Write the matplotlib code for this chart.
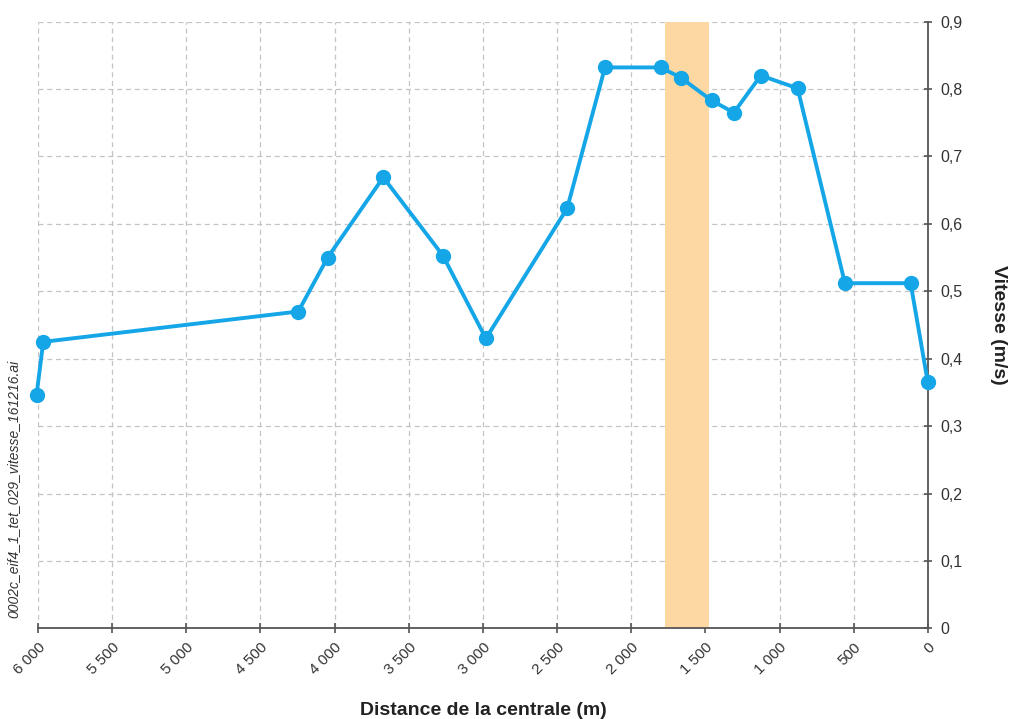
import matplotlib.pyplot as plt
from matplotlib.ticker import FuncFormatter

plt.rcParams['font.family'] = ['Liberation Sans', 'DejaVu Sans']

distance = [6010, 5965, 4245, 4047, 3672, 3270, 2980, 2432, 2177, 1802,
            1667, 1458, 1308, 1126, 878, 559, 116, 0]
vitesse = [0.346, 0.425, 0.470, 0.550, 0.669, 0.553, 0.430, 0.623, 0.832, 0.832,
           0.817, 0.783, 0.765, 0.820, 0.801, 0.512, 0.512, 0.365]
zone = [1770, 1475]
xticks = list(range(0, 6001, 500))
yticks = [i / 10 for i in range(10)]

bleu = '#15a6e8'
gris = '#555555'

fig = plt.figure(figsize=(10.14, 7.19), dpi=100)
ax = fig.add_axes([0.0375, 0.126, 0.8775, 0.844])

ax.axvspan(zone[0], zone[1], color='#fdd8a2', zorder=1, lw=0)
ax.plot(distance, vitesse, '-o', color=bleu, lw=2.8, markersize=10, zorder=3, clip_on=False)

ax.set_xlim(6000, 0)
ax.set_ylim(0, 0.9)
ax.set_xticks(xticks)
ax.set_yticks(yticks)
ax.xaxis.set_major_formatter(FuncFormatter(lambda v, p: f'{int(v):,}'.replace(',', ' ')))
ax.yaxis.set_major_formatter(FuncFormatter(lambda v, p: '0' if v == 0 else f'{v:.1f}'.replace('.', ',')))

ax.yaxis.tick_right()
ax.yaxis.set_label_position('right')
ax.grid(True, ls=(0, (4, 3)), color='#c4c4c4', lw=0.9, zorder=0)
ax.set_axisbelow(True)

for s in ['top', 'left']:
    ax.spines[s].set_visible(False)
for s in ['bottom', 'right']:
    ax.spines[s].set_color(gris)
    ax.spines[s].set_linewidth(1.3)

ax.tick_params(axis='x', direction='inout', length=7, width=1.2, color=gris, labelsize=11, labelcolor='#333333', pad=5)
ax.tick_params(axis='y', direction='inout', length=6, width=1.2, color=gris, labelsize=11.5, labelcolor='#333333', pad=6)
plt.setp(ax.get_xticklabels(), rotation=45, ha='right', rotation_mode='anchor')

ax.set_xlabel('Distance de la centrale (m)', fontsize=14, fontweight='bold', labelpad=18, color='#222222')
ax.set_ylabel('Vitesse (m/s)', fontsize=14, fontweight='bold', rotation=-90, labelpad=32, color='#222222')

fig.text(0.013, 0.32, '0002c_eif4_1_tet_029_vitesse_161216.ai', rotation=90, fontsize=10,
         style='italic', color='#333333', ha='center', va='center')

fig.savefig('out.png', dpi=100)
